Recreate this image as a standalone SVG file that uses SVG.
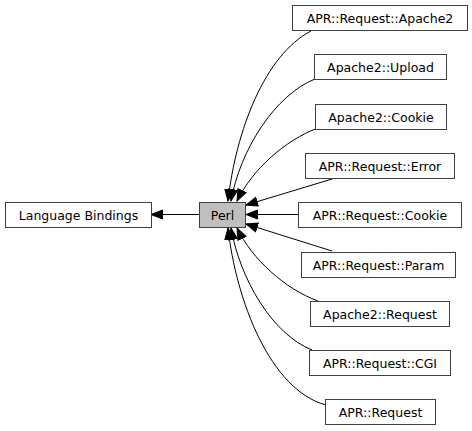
<svg xmlns="http://www.w3.org/2000/svg" width="472" height="431" viewBox="0 0 472 431">
<defs>
<style>
.box{fill:#ffffff;stroke:#404040;stroke-width:1}
.cur{fill:#bfbfbf;stroke:#404040;stroke-width:1}
text{font-family:"DejaVu Sans",sans-serif;font-size:12.5px;fill:#000000;text-anchor:middle}
.e{fill:none;stroke:#000000;stroke-width:1;marker-end:url(#ah)}
</style>
<marker id="ah" markerUnits="userSpaceOnUse" markerWidth="14" markerHeight="12" refX="12" refY="6" orient="auto" viewBox="0 0 14 12">
<path d="M0.5,1.5 L12,6 L0.5,10.5 z" fill="#000000" stroke="#000000" stroke-width="1"/>
</marker>
</defs>
<rect width="472" height="431" fill="#ffffff"/>
<g id="connectors">
<path class="e" d="M199,214.5 L151,214.5"/>
<path class="e" d="M311,31 C265,55 236,130 228,201"/>
<path class="e" d="M315,79 C275,95 240,150 231,201"/>
<path class="e" d="M318,128 C285,140 252,170 237,201"/>
<path class="e" d="M332,179 L246,205"/>
<path class="e" d="M298,214.5 L246,214.5"/>
<path class="e" d="M332,251 L246,224"/>
<path class="e" d="M318,301 C285,289 252,259 237,228"/>
<path class="e" d="M312,350 C272,334 240,279 231,228"/>
<path class="e" d="M326,405 C270,390 236,300 228,228"/>
</g>
<g id="node-language-bindings"><rect class="box" x="5.5" y="202.5" width="146" height="25"/><text x="78.5" y="219.5">Language Bindings</text></g>
<g id="node-perl"><rect class="cur" x="199.5" y="202.5" width="46" height="25"/><text x="222.5" y="219.5">Perl</text></g>
<g id="node-apr-request-apache2"><rect class="box" x="292.5" y="5.5" width="175" height="25"/><text x="380" y="22.5">APR::Request::Apache2</text></g>
<g id="node-apache2-upload"><rect class="box" x="314.5" y="54.5" width="132" height="25"/><text x="380.5" y="71.5">Apache2::Upload</text></g>
<g id="node-apache2-cookie"><rect class="box" x="315.5" y="104.5" width="131" height="25"/><text x="381" y="121.5">Apache2::Cookie</text></g>
<g id="node-apr-request-error"><rect class="box" x="305.5" y="153.5" width="149" height="25"/><text x="380" y="170.5">APR::Request::Error</text></g>
<g id="node-apr-request-cookie"><rect class="box" x="298.5" y="202.5" width="163" height="25"/><text x="380" y="219.5">APR::Request::Cookie</text></g>
<g id="node-apr-request-param"><rect class="box" x="301.5" y="252.5" width="154" height="25"/><text x="378.5" y="269.5">APR::Request::Param</text></g>
<g id="node-apache2-request"><rect class="box" x="310.5" y="301.5" width="139" height="25"/><text x="380" y="318.5">Apache2::Request</text></g>
<g id="node-apr-request-cgi"><rect class="box" x="309.5" y="350.5" width="141" height="25"/><text x="380" y="367.5">APR::Request::CGI</text></g>
<g id="node-apr-request"><rect class="box" x="325.5" y="399.5" width="110" height="25"/><text x="380.5" y="416.5">APR::Request</text></g>
</svg>
